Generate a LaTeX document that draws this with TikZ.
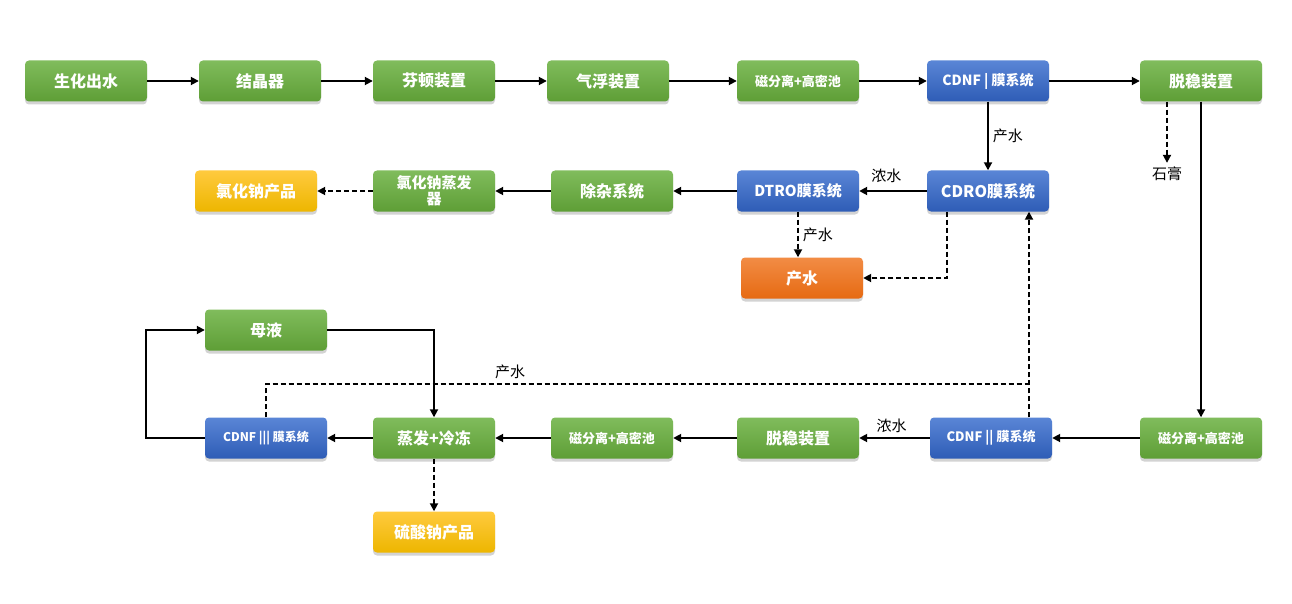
\documentclass[tikz,border=0pt]{standalone}
\usepackage{fontspec}
\setmainfont{Noto Sans CJK SC}
\usetikzlibrary{positioning,shadows,arrows.meta}

\definecolor{grnT}{HTML}{80BC5C}
\definecolor{grnB}{HTML}{5E9E36}
\definecolor{bluT}{HTML}{5A86D6}
\definecolor{bluB}{HTML}{2E5CB6}
\definecolor{orgT}{HTML}{F28C45}
\definecolor{orgB}{HTML}{E66A12}
\definecolor{ylwT}{HTML}{FFCA3E}
\definecolor{ylwB}{HTML}{EDB600}

\begin{document}
\begin{tikzpicture}[
    x=1pt, y=-1pt,
    box/.style = {rounded corners=4pt, minimum width=122pt, minimum height=41pt,
        text=white, align=center, font=\bfseries\fontsize{16}{17}\selectfont,
        drop shadow={opacity=0.35, shadow xshift=0pt, shadow yshift=-3pt}},
    grn/.style = {box, top color=grnT, bottom color=grnB},
    blu/.style = {box, top color=bluT, bottom color=bluB},
    org/.style = {box, top color=orgT, bottom color=orgB},
    ylw/.style = {box, top color=ylwT, bottom color=ylwB},
    small/.style = {font=\bfseries\fontsize{13}{14}\selectfont},
    lbl/.style = {font=\fontsize{15}{16}\selectfont, inner sep=4pt},
    flow/.style = {line width=1.8pt, -{Triangle[length=8pt,width=8pt]}},
    dflow/.style = {flow, dash pattern=on 5pt off 3pt},
    dline/.style = {line width=1.8pt, dash pattern=on 5pt off 3pt}
]
\useasboundingbox (0,0) rectangle (1292,604);

% top row
\node[grn] (src) at (86,81) {生化出水};
\node[grn] (cryst) at (260,81) {结晶器};
\node[grn] (fenton) at (434,81) {芬顿装置};
\node[grn] (float) at (608,81) {气浮装置};
\node[grn, small] (mag1) at (798,81) {磁分离+高密池};
\node[blu, font=\bfseries\fontsize{14}{15}\selectfont] (cdnf1) at (988,81) {CDNF | 膜系统};
\node[grn] (deston1) at (1201,81) {脱稳装置};

% second row
\node[ylw] (naclp) at (256,191) {氯化钠产品};
\node[grn, font=\bfseries\fontsize{15}{16}\selectfont] (naclev) at (434,191) {氯化钠蒸发\\器};
\node[grn] (purif) at (612,191) {除杂系统};
\node[blu, font=\bfseries\fontsize{15}{16}\selectfont] (dtro) at (798,191) {DTRO膜系统};
\node[blu] (cdro) at (988,191) {CDRO膜系统};
\node[lbl] (gyp) at (1167,174) {石膏};
\node[org] (prodw) at (802,278) {产水};

% lower part
\node[grn] (mother) at (266,330) {母液};
\node[blu, font=\bfseries\fontsize{12}{13}\selectfont] (cdnf3) at (266,438) {CDNF ||| 膜系统};
\node[grn] (evap) at (434,438) {蒸发+冷冻};
\node[grn, small] (mag3) at (612,438) {磁分离+高密池};
\node[grn] (deston2) at (798,438) {脱稳装置};
\node[blu, font=\bfseries\fontsize{13}{14}\selectfont] (cdnf2) at (991,438) {CDNF || 膜系统};
\node[grn, small] (mag2) at (1201,438) {磁分离+高密池};
\node[ylw] (na2so4) at (434,532) {硫酸钠产品};

\coordinate (join) at ([xshift=38pt]cdnf2.north |- 0,384);

% main line
\draw[flow] (src) -- (cryst);
\draw[flow] (cryst) -- (fenton);
\draw[flow] (fenton) -- (float);
\draw[flow] (float) -- (mag1);
\draw[flow] (mag1) -- (cdnf1);
\draw[flow] (cdnf1) -- (deston1);
\draw[flow] (cdnf1) -- node[lbl, right] {产水} (cdro);
\draw[dflow] ([xshift=-34pt]deston1.south) -- (gyp.north);
\draw[flow] (deston1) -- (mag2);

% bottom row
\draw[flow] (mag2) -- (cdnf2);
\draw[flow] (cdnf2) -- node[lbl, above, pos=0.54] {浓水} (deston2);
\draw[flow] (deston2) -- (mag3);
\draw[flow] (mag3) -- (evap);
\draw[flow] (evap) -- (cdnf3);
\draw[flow] (cdnf3.west) -- ++(-59,0) |- (mother.west);
\draw[flow] (mother.east) -| (evap.north);
\draw[dflow] (evap) -- (na2so4);

% product water return
\draw[dline] (cdnf3.north) |- node[lbl, above, pos=0.66] {产水} (join);
\draw[dflow] ([xshift=38pt]cdnf2.north) -- ([xshift=38pt]cdnf2.north |- cdro.south);

% second row
\draw[flow] (cdro) -- node[lbl, above, pos=0.6, yshift=3pt] {浓水} (dtro);
\draw[dflow] (dtro.south) -- node[lbl, right] {产水} (dtro.south |- prodw.north);
\draw[dflow] ([xshift=-41pt]cdro.south) |- (prodw.east);
\draw[flow] (dtro) -- (purif);
\draw[flow] (purif) -- (naclev);
\draw[dflow] (naclev) -- (naclp);

\end{tikzpicture}
\end{document}
